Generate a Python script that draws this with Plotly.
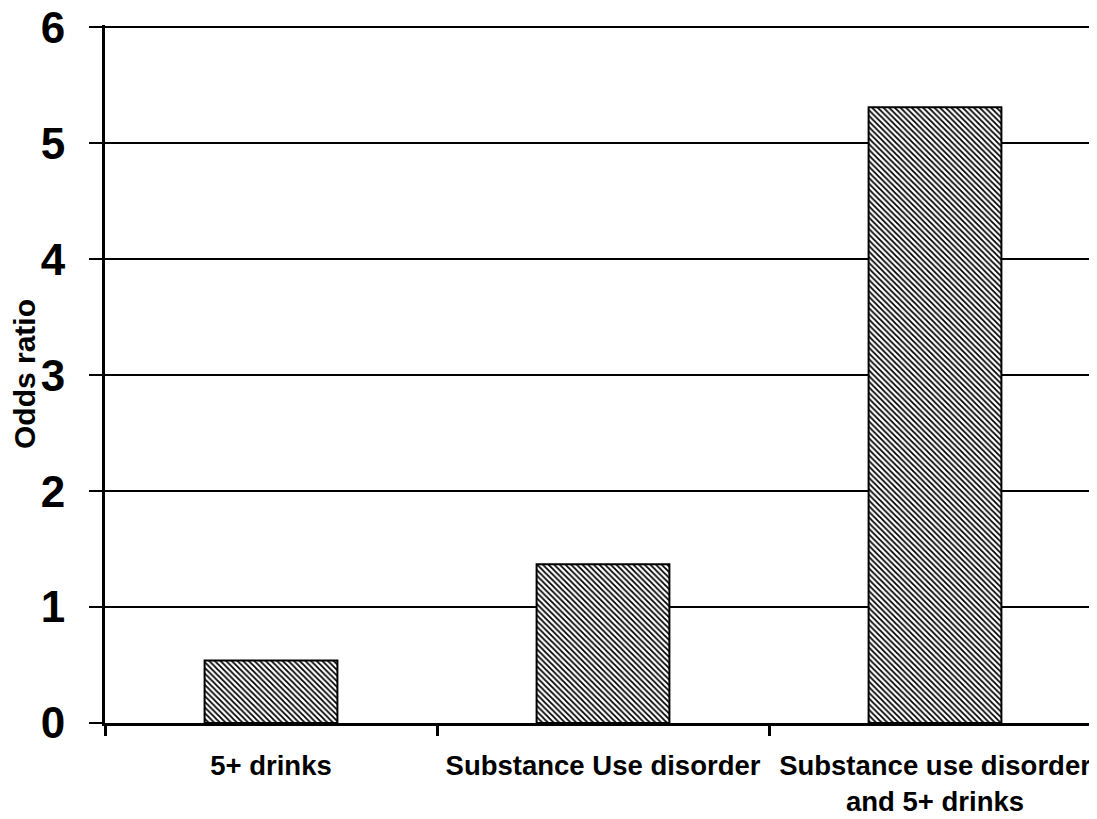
import plotly.graph_objects as go

categories = ["5+ drinks", "Substance Use disorder", "Substance use disorder<br>and 5+ drinks"]
odds_ratio = [0.54, 1.37, 5.31]
y_ticks = [0, 1, 2, 3, 4, 5, 6]

FONT = "Liberation Sans, Arial, sans-serif"

fig = go.Figure()
fig.add_trace(go.Bar(
    x=categories,
    y=odds_ratio,
    width=0.4,
    marker=dict(
        color="white",
        line=dict(color="black", width=2),
        pattern=dict(shape="\\", size=4, solidity=0.45, fgcolor="black", bgcolor="white", fillmode="replace"),
    ),
))

# page body has an 8px default margin, so the figure is sized to fit the window
fig.update_layout(
    width=1089, height=811,
    margin=dict(l=97, r=0, t=17, b=96),
    paper_bgcolor="white", plot_bgcolor="white",
    showlegend=False,
    font=dict(family=FONT, color="black"),
)

fig.update_xaxes(
    automargin=False,
    range=[-0.5, -0.5 + 992 / 332],
    showline=True, linecolor="black", linewidth=3,
    ticks="outside", tickson="boundaries", ticklen=10, tickwidth=3, tickcolor="black",
    tickfont=dict(family=FONT, size=27.5, weight="bold", color="black"),
    ticklabelstandoff=16,
    ticklabeloverflow="allow",
    showgrid=False,
)

fig.update_yaxes(
    automargin=False,
    range=[0, 6.02],
    tickvals=y_ticks,
    ticktext=[str(v) for v in y_ticks],
    showline=True, linecolor="black", linewidth=3,
    ticks="outside", ticklen=13, tickwidth=2, tickcolor="black",
    tickfont=dict(family=FONT, size=44, weight="bold", color="black"),
    ticklabelstandoff=15,
    ticklabeloverflow="allow",
    showgrid=True, gridcolor="black", gridwidth=2,
    zeroline=False,
    title=dict(text="Odds ratio", font=dict(family=FONT, size=30, weight="bold", color="black"), standoff=0),
)

fig.write_html("out.html")
